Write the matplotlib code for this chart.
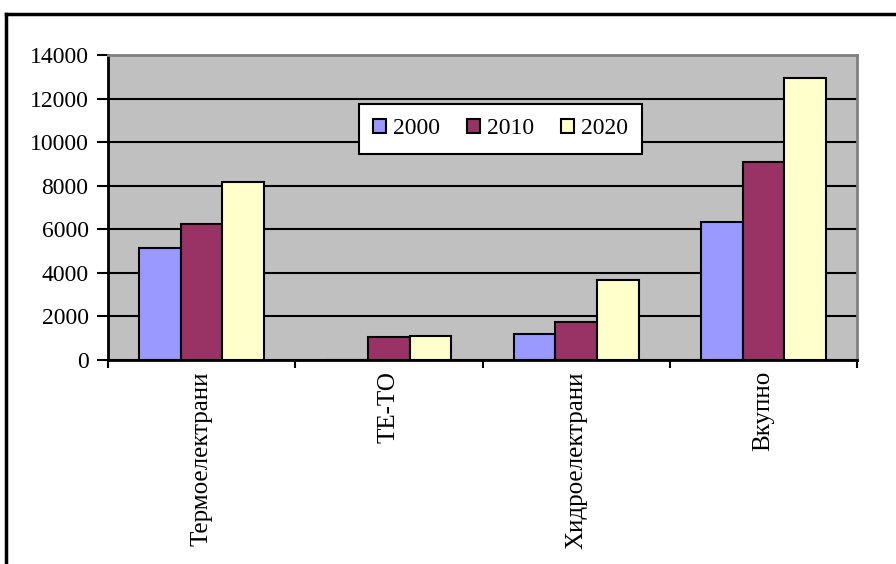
import numpy as np
import matplotlib
matplotlib.use('Agg')
import matplotlib.pyplot as plt
from matplotlib.lines import Line2D

plt.rcParams['font.family'] = ['Liberation Serif', 'DejaVu Serif']

categories = ['Термоелектрани', 'ТЕ-ТО', 'Хидроелектрани', 'Вкупно']
years = ['2000', '2010', '2020']
v2000 = [5150, 0, 1180, 6340]
v2010 = [6250, 1070, 1740, 9080]
v2020 = [8170, 1080, 3670, 12950]
colors = ['#9999FF', '#993366', '#FFFFCC']

fig = plt.figure(figsize=(8.96, 5.64), dpi=100)
ax = fig.add_axes([108 / 896, 1 - 360 / 564, (857 - 108) / 896, (360 - 55) / 564])
ax.set_facecolor('#C0C0C0')

x = np.arange(len(categories))
w = 2 / 9
for i, (vals, c, lab) in enumerate(zip([v2000, v2010, v2020], colors, years)):
    ax.bar(x + (i - 1) * w, vals, width=w, color=c, edgecolor='black',
           linewidth=1.5, label=lab, zorder=3)

ax.set_xlim(-0.5, 3.5)
ax.set_ylim(0, 14000)
ax.set_yticks(range(0, 14001, 2000))
ax.yaxis.grid(True, color='black', linewidth=1.5)
ax.set_axisbelow(True)

ax.set_xticks(x)
ax.set_xticklabels(categories, rotation=90, va='top', ha='center', fontsize=18)
ax.set_xticks(np.arange(-0.5, 4, 1), minor=True)
ax.tick_params(axis='x', which='major', length=0, pad=8)
ax.tick_params(axis='x', which='minor', length=6, width=1.5, direction='out')
ax.tick_params(axis='y', length=8, width=1.5, direction='out', labelsize=17, pad=6)

for s in ['left', 'bottom']:
    ax.spines[s].set_color('black')
    ax.spines[s].set_linewidth(2)
for s in ['top', 'right']:
    ax.spines[s].set_color('#808080')
    ax.spines[s].set_linewidth(2)

leg = fig.legend(loc='center', bbox_to_anchor=(0.5586, 1 - 129 / 564), ncol=3,
                 fontsize=17, frameon=True, fancybox=False, edgecolor='black',
                 framealpha=1, handlelength=0.55, handleheight=0.55,
                 handletextpad=0.3, columnspacing=1.15, borderpad=0.6)
leg.get_frame().set_linewidth(1.5)

# outer chart frame
fig.add_artist(Line2D([6 / 896, 1], [1 - 14 / 564] * 2, color='black', linewidth=2.5,
                      transform=fig.transFigure))
fig.add_artist(Line2D([6 / 896] * 2, [0, 1 - 14 / 564], color='black', linewidth=2.5,
                      transform=fig.transFigure))

fig.savefig('out.png', dpi=100)
